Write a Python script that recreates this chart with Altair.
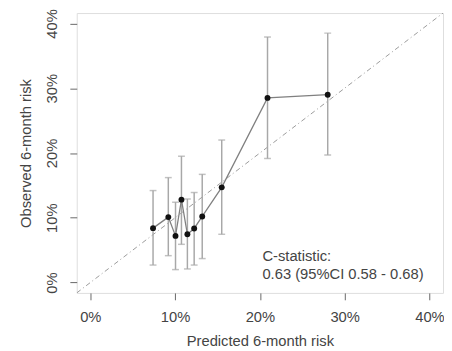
import altair as alt
import pandas as pd

# Calibration data (percent)
predicted = [7.4, 9.2, 10.05, 10.75, 11.45, 12.25, 13.2, 15.5, 20.9, 28.0]
observed = [8.4, 10.1, 7.2, 12.8, 7.45, 8.35, 10.2, 14.7, 28.5, 29.0]
ci_low = [2.7, 4.15, 2.0, 5.9, 2.1, 2.7, 3.7, 7.45, 19.15, 19.7]
ci_high = [14.2, 16.2, 12.4, 19.5, 12.9, 13.9, 16.7, 22.0, 37.9, 38.5]

axis_ticks = [0, 10, 20, 30, 40]
axis_domain = [-1.6, 41.6]
annot_lines = ["C-statistic:", "0.63 (95%CI 0.58 - 0.68)"]
annot_x = [20.3, 20.3]
annot_y = [4.1, 1.3]

df = pd.DataFrame({"pred": predicted, "obs": observed, "lo": ci_low, "hi": ci_high,
                   "order": list(range(len(predicted)))})
diag = pd.DataFrame({"pred": axis_domain, "obs": axis_domain})
ann = pd.DataFrame({"x": annot_x, "y": annot_y, "t": annot_lines})

FONT = "Liberation Sans"
TXT = "#444444"

xs = alt.Scale(domain=axis_domain, nice=False, zero=False)
ys = alt.Scale(domain=axis_domain, nice=False, zero=False)

x_axis = alt.Axis(values=axis_ticks, labelExpr="datum.value + '%'", title="Predicted 6-month risk",
                  grid=False, domain=False, tickSize=7, tickColor="#666666", tickWidth=1,
                  labelPadding=10, titlePadding=10, labelFontSize=15, titleFontSize=15,
                  labelFont=FONT, titleFont=FONT, labelColor=TXT, titleColor=TXT,
                  titleFontWeight="normal", labelFlush=False, labelOverlap=False)
y_axis = alt.Axis(values=axis_ticks, labelExpr="datum.value + '%'", title="Observed 6-month risk",
                  grid=False, domain=False, tickSize=7, tickColor="#666666", tickWidth=1,
                  labelAngle=270, labelAlign="center", labelBaseline="bottom",
                  labelPadding=11, titlePadding=11, labelFontSize=15, titleFontSize=15,
                  labelFont=FONT, titleFont=FONT, labelColor=TXT, titleColor=TXT,
                  titleFontWeight="normal", labelFlush=False, labelOverlap=False)

base = alt.Chart(df)

diag_line = alt.Chart(diag).mark_line(color="#9a9a9a", strokeDash=[5, 3, 1, 3], strokeWidth=1, clip=True).encode(
    x=alt.X("pred:Q", scale=xs, axis=x_axis),
    y=alt.Y("obs:Q", scale=ys, axis=y_axis),
)

err = base.mark_rule(color="#a8a8a8", strokeWidth=1.5).encode(
    x="pred:Q", y="lo:Q", y2="hi:Q")
cap_lo = base.mark_tick(orient="horizontal", color="#a8a8a8", size=7, thickness=1.5).encode(
    x="pred:Q", y="lo:Q")
cap_hi = base.mark_tick(orient="horizontal", color="#a8a8a8", size=7, thickness=1.5).encode(
    x="pred:Q", y="hi:Q")

line = base.mark_line(color="#808080", strokeWidth=1.3).encode(
    x="pred:Q", y="obs:Q", order="order:Q")
pts = base.mark_circle(color="#111111", opacity=1, size=36).encode(x="pred:Q", y="obs:Q")

text = alt.Chart(ann).mark_text(align="left", baseline="middle", font=FONT, fontSize=15, color=TXT).encode(
    x="x:Q", y="y:Q", text="t:N")

chart = alt.layer(diag_line, err, cap_lo, cap_hi, line, pts, text).properties(
    width=373, height=285,
    autosize=alt.AutoSizeParams(type="none"),
    padding={"left": 70, "top": 2, "right": 1, "bottom": 56},
).configure_view(stroke="#7a7a7a", strokeWidth=1.3).configure(background="white")

chart.save("out.html", embed_options={"renderer": "svg", "actions": False})
